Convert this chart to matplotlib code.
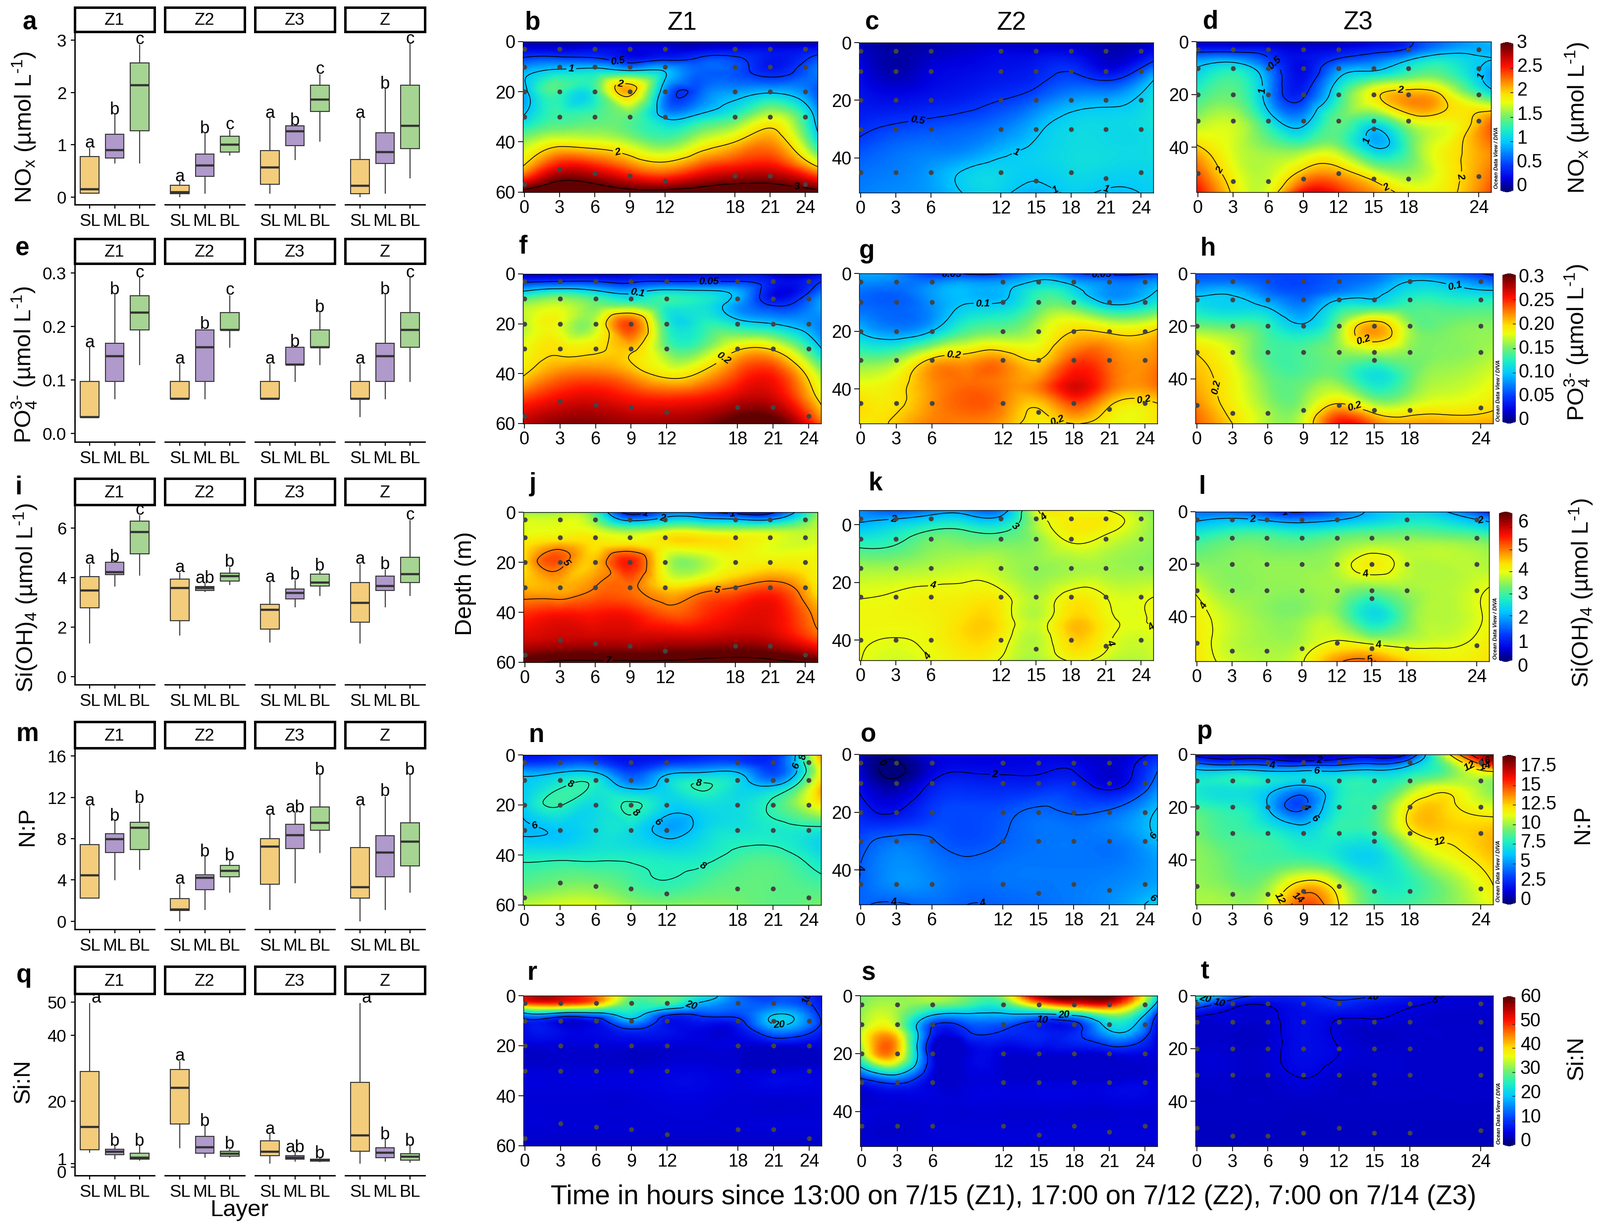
import matplotlib
matplotlib.use('Agg')
import numpy as np
import matplotlib.pyplot as plt
import matplotlib.tri as mtri
from matplotlib.colors import LinearSegmentedColormap, Normalize
from matplotlib.cm import ScalarMappable
from matplotlib.transforms import ScaledTranslation

plt.rcParams['font.family'] = ['Liberation Sans', 'DejaVu Sans']
plt.rcParams['mathtext.fontset'] = 'custom'
plt.rcParams['mathtext.rm'] = 'Liberation Sans'
plt.rcParams['mathtext.default'] = 'regular'

W, H = 3231, 2481

# box stats, low whisker, q1, median, q3, high whisker: SL ML BL for Z1 Z2 Z3 Z
nox_box = [[.08, .08, .15, .78, .93], [.65, .75, .9, 1.2, 1.57], [.65, 1.27, 2.14, 2.56, 2.91],
           [.01, .07, .09, .23, .29], [.08, .4, .61, .82, 1.21], [.8, .86, 1.0, 1.16, 1.28],
           [.08, .25, .57, .89, 1.5], [.72, .98, 1.26, 1.36, 1.36], [1.07, 1.64, 1.86, 2.14, 2.34],
           [.01, .07, .22, .72, 1.5], [.08, .64, .86, 1.23, 2.06], [.37, .93, 1.36, 2.14, 2.92]]
po4_box = [[.031, .031, .031, .097, .16], [.065, .097, .145, .169, .259], [.129, .194, .226, .258, .291],
           [.065, .065, .065, .097, .129], [.065, .097, .161, .194, .194], [.161, .194, .194, .226, .258],
           [.065, .065, .065, .097, .129], [.097, .129, .129, .161, .161], [.129, .161, .161, .194, .226],
           [.032, .065, .065, .097, .129], [.065, .097, .145, .169, .259], [.097, .161, .194, .226, .291]]
si_box = [[1.37, 2.78, 3.48, 4.04, 4.53], [3.67, 4.13, 4.22, 4.62, 4.62], [4.1, 4.96, 5.84, 6.28, 6.51],
          [1.68, 2.27, 3.59, 3.94, 4.19], [3.45, 3.49, 3.58, 3.65, 3.76], [3.73, 3.87, 4.07, 4.19, 4.41],
          [1.4, 1.92, 2.71, 2.93, 3.8], [2.82, 3.15, 3.39, 3.55, 3.89], [3.28, 3.66, 3.81, 4.15, 4.25],
          [1.37, 2.2, 2.98, 3.81, 4.53], [2.82, 3.49, 3.66, 4.07, 4.31], [3.28, 3.8, 4.15, 4.82, 6.31]]
np_box = [[2.23, 2.23, 4.46, 7.4, 11.13], [4.02, 6.64, 7.93, 8.49, 9.66], [5.02, 6.93, 9.04, 9.57, 11.36],
          [.06, 1.06, 1.15, 2.2, 3.55], [1.15, 3.08, 4.23, 4.52, 6.22], [2.82, 4.32, 4.87, 5.4, 5.84],
          [1.15, 3.58, 7.25, 7.99, 10.25], [3.73, 7.05, 8.34, 9.37, 10.48], [6.64, 8.81, 9.54, 11.07, 14.12],
          [.06, 2.23, 3.29, 7.16, 11.13], [1.15, 4.32, 6.64, 8.31, 12.04], [2.82, 5.37, 7.72, 9.54, 14.12]]
sin_box = [[4.57, 5.3, 12.15, 29, 49.6], [2.5, 3.73, 4.63, 5.46, 6.24], [2.06, 2.34, 2.79, 4.18, 6.3],
           [5.85, 13, 24.08, 29.65, 32], [2.95, 4.18, 5.96, 9.36, 12.26], [3.07, 3.29, 4.0, 4.8, 5.3],
           [1.23, 3.46, 4.68, 7.92, 9.87], [1.84, 2.4, 2.9, 3.46, 4.35], [1.67, 1.84, 2.12, 2.4, 2.5],
           [1.23, 4.85, 9.64, 25.64, 49.6], [1.84, 2.84, 4.35, 5.85, 8.25], [1.5, 2.06, 3.23, 4.01, 6.3]]

nox_letters = ['a', 'b', 'c', 'a', 'b', 'c', 'a', 'b', 'c', 'a', 'b', 'c']
po4_letters = ['a', 'b', 'c', 'a', 'b', 'c', 'a', 'b', 'b', 'a', 'b', 'c']
si_letters = ['a', 'b', 'c', 'a', 'ab', 'b', 'a', 'b', 'b', 'a', 'b', 'c']
np_letters = ['a', 'b', 'b', 'a', 'b', 'b', 'a', 'ab', 'b', 'a', 'b', 'b']
sin_letters = ['a', 'b', 'b', 'a', 'b', 'b', 'a', 'ab', 'b', 'a', 'b', 'b']

layers = ['SL', 'ML', 'BL']
zones = ['Z1', 'Z2', 'Z3', 'Z']
box_colors = ['#F3CD7B', '#B099CB', '#A6D492']

# sections, rows are depths of the depth lists, columns are time_nodes
time_nodes = [-0.2, 3, 6, 9, 12, 15, 18, 21, 25.1]
depth_z1 = [0, 3, 7, 12, 20, 30, 40, 50, 60]
depth_z2 = [0, 3, 7, 12, 20, 30, 38, 45, 52]
depth_z3 = [0, 3, 7, 12, 20, 30, 40, 50, 57]

nox_z1 = [[.1, .1, .1, .1, .1, .1, .1, .1, .1],
          [.25, .25, .3, .25, .25, .25, .3, .3, .35],
          [.55, .6, .55, .35, .45, .55, .55, .35, .6],
          [.9, 1.1, 1.15, 1.1, 1.0, .65, .6, .4, .75],
          [.85, 1.35, 1.3, 2.1, .8, .65, .85, .95, .6],
          [1.0, 1.35, 1.4, 1.45, .95, 1.1, 1.35, 1.75, .85],
          [1.6, 1.85, 1.8, 1.65, 1.45, 1.75, 2.0, 2.2, 1.15],
          [2.0, 2.6, 2.55, 2.3, 2.15, 2.4, 2.55, 2.6, 2.0],
          [3.1, 3.3, 3.2, 3.1, 3.1, 3.15, 3.25, 3.2, 3.1]]
nox_z2 = [[.15, .05, .1, .15, .15, .15, .15, .1, .2],
          [.2, .1, .15, .2, .25, .25, .25, .15, .3],
          [.25, .1, .2, .25, .3, .35, .4, .2, .55],
          [.3, .15, .25, .3, .35, .42, .55, .42, .95],
          [.35, .3, .35, .4, .5, .65, .85, .9, 1.15],
          [.45, .55, .6, .65, .75, .95, 1.1, 1.1, 1.15],
          [.6, .7, .75, .8, .95, 1.05, 1.12, 1.12, 1.12],
          [.7, .75, .85, 1.03, 1.08, 1.03, 1.1, 1.08, 1.08],
          [.75, .8, .85, 1.02, 1.05, .92, 1.03, .97, 1.05]]
nox_z3 = [[.2, .15, .1, .1, .15, .25, .45, .7, 1.0],
          [.4, .4, .35, .25, .3, .4, .55, .85, .9],
          [.85, .9, .55, .3, .55, .7, 1.0, 1.2, 1.0],
          [1.05, 1.3, .8, .3, .9, 1.1, 1.35, 1.4, .85],
          [1.3, 1.45, .85, .45, 1.25, 1.9, 2.15, 1.95, 1.2],
          [1.6, 1.7, 1.2, .9, 1.45, 1.25, 1.75, 1.85, 2.3],
          [2.05, 1.75, 1.55, 1.5, 1.55, 1.0, 1.4, 1.85, 2.25],
          [2.4, 1.85, 1.7, 2.1, 2.15, 1.8, 1.6, 1.85, 2.3],
          [2.6, 1.95, 1.8, 2.6, 2.5, 2.2, 1.9, 1.9, 2.4]]
po4_z1 = [[.02, .02, .02, .03, .03, .03, .03, .02, .03],
          [.045, .05, .05, .045, .05, .05, .05, .035, .05],
          [.1, .12, .105, .09, .11, .105, .09, .03, .07],
          [.16, .17, .15, .14, .13, .12, .085, .045, .09],
          [.165, .18, .17, .24, .13, .125, .115, .1, .075],
          [.18, .195, .195, .205, .15, .15, .195, .195, .1],
          [.195, .225, .23, .215, .19, .205, .24, .25, .16],
          [.24, .26, .265, .255, .25, .255, .27, .27, .19],
          [.275, .29, .29, .285, .285, .29, .31, .31, .23]]
po4_z2 = [[.09, .08, .05, .045, .05, .08, .055, .045, .05],
          [.08, .075, .075, .085, .085, .105, .09, .075, .085],
          [.07, .065, .085, .095, .095, .13, .115, .08, .105],
          [.07, .065, .08, .105, .11, .145, .15, .115, .135],
          [.1, .08, .1, .14, .15, .17, .2, .195, .205],
          [.15, .16, .205, .215, .22, .2, .24, .23, .225],
          [.18, .19, .22, .23, .225, .225, .265, .235, .23],
          [.2, .195, .22, .235, .225, .205, .24, .205, .2],
          [.19, .205, .225, .225, .215, .19, .2, .185, .195]]
po4_z3 = [[.06, .06, .055, .055, .06, .07, .08, .07, .045],
          [.07, .07, .06, .055, .065, .075, .1, .095, .065],
          [.09, .095, .07, .06, .075, .09, .115, .115, .105],
          [.115, .105, .095, .075, .115, .12, .135, .135, .135],
          [.15, .145, .13, .105, .155, .215, .16, .15, .155],
          [.2, .175, .14, .14, .155, .165, .155, .155, .165],
          [.21, .185, .15, .145, .15, .115, .145, .165, .18],
          [.225, .19, .16, .16, .205, .17, .175, .185, .195],
          [.235, .2, .165, .175, .255, .23, .215, .215, .215]]
si_z1 = [[3.5, 3.6, 3.0, .7, 1.5, 1.3, .7, .8, 3.5],
         [3.9, 3.9, 3.4, 1.8, 2.3, 2.3, 2.1, 2.0, 3.7],
         [3.9, 4.0, 3.9, 3.4, 3.7, 3.7, 3.6, 3.6, 3.8],
         [4.2, 4.5, 4.3, 4.2, 4.3, 4.4, 4.3, 4.0, 3.9],
         [4.3, 5.2, 4.6, 5.6, 3.9, 3.6, 4.1, 4.2, 4.1],
         [4.65, 4.7, 5.0, 5.1, 4.45, 4.65, 5.0, 5.3, 4.2],
         [5.4, 5.6, 5.6, 5.6, 5.2, 5.4, 5.7, 5.8, 4.8],
         [5.9, 6.0, 6.0, 6.0, 6.0, 6.0, 6.1, 6.0, 5.2],
         [6.8, 7.1, 7.1, 7.1, 7.1, 7.2, 7.3, 7.2, 6.9]]
si_z2 = [[1.8, 1.3, 1.6, 1.7, 1.6, 3.9, 4.1, 4.0, 3.4],
         [1.9, 2.0, 2.3, 2.3, 2.2, 3.7, 4.2, 4.2, 3.5],
         [2.3, 2.6, 3.0, 3.0, 2.9, 3.6, 4.2, 4.1, 3.5],
         [2.9, 3.0, 3.4, 3.4, 3.4, 3.5, 3.95, 3.8, 3.5],
         [3.6, 3.6, 3.7, 3.8, 3.7, 3.5, 3.6, 3.6, 3.5],
         [3.98, 4.05, 4.15, 4.2, 4.15, 3.7, 4.2, 4.0, 4.0],
         [4.1, 4.1, 4.15, 4.4, 4.3, 3.75, 4.5, 4.15, 4.05],
         [4.05, 3.98, 4.1, 4.4, 4.2, 3.7, 4.45, 4.1, 3.9],
         [4.02, 3.85, 4.0, 4.2, 3.95, 3.6, 4.05, 3.8, 3.8]]
si_z3 = [[1.6, 1.5, 1.2, .95, 1.5, 2.1, 2.4, 2.1, .9],
         [1.9, 2.1, 1.9, 1.7, 1.95, 2.3, 2.6, 2.5, 1.8],
         [2.5, 2.8, 2.8, 2.6, 2.8, 3.0, 3.1, 3.0, 2.6],
         [3.0, 3.3, 3.3, 3.2, 3.4, 3.6, 3.6, 3.6, 3.4],
         [3.45, 3.45, 3.5, 3.5, 3.7, 4.2, 3.8, 3.7, 3.65],
         [3.95, 3.5, 3.5, 3.5, 3.55, 3.3, 3.55, 3.7, 4.05],
         [4.2, 3.75, 3.5, 3.5, 3.5, 2.5, 3.3, 3.7, 4.1],
         [4.3, 3.75, 3.6, 3.7, 4.1, 3.9, 3.8, 3.9, 4.25],
         [4.3, 3.85, 3.7, 3.95, 4.9, 5.05, 4.5, 4.2, 4.35]]
np_z1 = [[2, 2.5, 2.5, 2, 2, 2.5, 2.8, 2.5, 14],
         [3, 3.5, 3.5, 2.2, 3, 3.5, 3.5, 3, 13],
         [5.5, 6, 6, 3.5, 5.5, 6, 6, 3.5, 12],
         [6.3, 7.7, 7.7, 5.2, 6.8, 8.1, 7, 5.8, 13],
         [6.3, 8.1, 7, 8.2, 6.7, 7, 7, 8.3, 12],
         [5.8, 6.2, 7, 7, 5.5, 6.6, 7.3, 7.6, 7.5],
         [7.5, 7.5, 7.6, 7.6, 7.3, 7.5, 8.3, 8.5, 7],
         [8.7, 9.2, 9.2, 8.5, 8, 8.5, 9, 9, 8.3],
         [10.5, 11, 11, 10, 9.7, 9.7, 9.5, 9, 9.5]]
np_z2 = [[1, .3, 1.5, 1.5, 1.5, 1.5, 1.2, 1.0, 2.5],
         [1.2, -.1, 1.3, 1.6, 1.6, 1.7, 1.7, 1.2, 3.5],
         [1.5, -.2, 1.6, 2.1, 2.0, 2, 2.1, 1.2, 4.2],
         [2.0, .8, 2.4, 2.8, 2.7, 2.9, 2.9, 1.9, 5],
         [2.6, 2.0, 3.2, 3.5, 3.7, 4.2, 3.9, 4.2, 6.2],
         [3.5, 4.4, 4.1, 3.6, 4, 4.4, 4.5, 4.5, 6],
         [3.9, 5, 4.6, 4.2, 4.4, 4.5, 4.5, 4.5, 5.3],
         [4, 5, 4.8, 4.3, 4.4, 4.5, 4.6, 4.8, 5.5],
         [4.2, 3.8, 4.3, 4.0, 4.1, 4.3, 4.6, 5, 6.5]]
np_z3 = [[1.5, 1, 1, 0, 1, 1, 2.5, 11, 19],
         [4, 3, 3, 2.5, 3, 3.5, 5, 9.5, 17],
         [6.8, 7, 6.5, 6.5, 6.5, 6.7, 7.5, 9, 11.5],
         [7.7, 7.5, 7, 5.8, 7.6, 8, 9.5, 11, 9.5],
         [8.5, 7.8, 6, 3.8, 7.7, 8.5, 12, 12.5, 11],
         [9.5, 8.5, 8, 7, 8, 8.2, 11.5, 12.5, 13],
         [9.8, 9, 8.5, 8.5, 7.5, 6.7, 9, 11, 12.8],
         [10, 9.5, 10, 13, 11, 8, 8, 9.5, 12],
         [10.2, 10, 11, 15, 12, 8.5, 8.5, 9.5, 11.5]]
sin_z1 = [[52, 55, 45, 30, 28, 24, 14, 12, 6],
          [48, 50, 44, 28, 28, 19, 14, 13, 7],
          [19, 19, 19, 24, 13, 12, 12, 19, 8],
          [5.5, 5, 5.5, 13, 6.5, 6, 7, 19, 9],
          [4.5, 4.5, 4.5, 4.5, 4.5, 4.5, 4.5, 4.5, 4.5],
          [4.5, 4.5, 4.5, 4.5, 5, 5, 4.5, 4.5, 4.5],
          [4.5, 4.5, 4.5, 4.5, 5, 5, 4.5, 4.5, 4.5],
          [4.5, 4.5, 4.5, 4.5, 4.5, 4.5, 4.5, 4.5, 4.5],
          [3.5, 3.5, 3.5, 3.5, 3.5, 3.5, 3.5, 3.5, 3.5]]
sin_z2 = [[30, 32, 34, 30, 33, 58, 62, 62, 22],
          [31, 33, 31, 28, 27, 42, 50, 52, 17],
          [32, 33, 19, 18, 18, 16, 19, 30, 8],
          [33, 37, 9, 10, 10, 8, 8, 20, 5],
          [28, 42, 5, 4.5, 4.5, 4.5, 4.5, 5, 4.5],
          [7, 11, 4.5, 4.5, 4.5, 4.5, 4.5, 4.5, 4.5],
          [4.5, 4.5, 4.5, 4.5, 4.5, 4.5, 4.5, 4.5, 4.5],
          [4.5, 4, 4.5, 4.5, 4.5, 4.5, 4.5, 4.5, 4.5],
          [4.5, 4.5, 4.5, 4.5, 4.5, 4.5, 4.5, 4.5, 4.5]]
sin_z3 = [[30, 14, 9, 9, 11, 10.5, 7, 5, 4.5],
          [16, 7, 5.5, 7, 9, 7, 5.5, 4.5, 4.5],
          [6, 4.5, 4.5, 6, 6, 5.5, 4.5, 4, 4],
          [4, 4, 4.2, 6, 4.5, 4, 4, 4, 4],
          [4, 4, 4.2, 6, 5, 4, 4, 4, 4],
          [4, 4, 4, 5.2, 4, 4, 4, 4, 4],
          [3.8, 3.8, 3.8, 3.8, 3.8, 3.8, 3.8, 3.8, 3.8],
          [3.5, 3.5, 3.5, 3.5, 3.5, 3.5, 3.5, 3.5, 3.5],
          [3.5, 3.5, 3.5, 3.5, 3.5, 3.5, 3.5, 3.5, 3.5]]

# sampling stations
z1_times = [0, 3, 6, 9, 12, 18, 21, 24]
z2_times = [0, 3, 6, 12, 15, 18, 21, 24]
z3_times = [0, 3, 6, 9, 12, 15, 18, 24]
z1_deep = [57, 51, 52.5, 53.5, 55.5, 53.5, 53.5, 57]
z2_deep = [45, 45, 45, 45, 48, 45, 47, 45]
z3_deep = [50, 53, 53, 52, 50, 52, 52, 51]
sample_depths = [3, 10, 20, 30]

nox_levels = [[.5, 1, 2, 3], [.5, 1], [.5, 1, 2]]
po4_levels = [[.05, .1, .2], [.05, .1, .2], [.05, .1, .2]]
si_levels = [[1, 2, 5, 7], [2, 3, 4], [1, 2, 4, 5]]
np_levels = [[6, 8], [0, 2, 4, 6], [0, 2, 4, 6, 12, 14, 16]]
sin_levels = [[10, 20], [10, 20], [5, 10, 20]]

nox_cbar = [0, .5, 1, 1.5, 2, 2.5, 3]
po4_cbar = [0, .05, .10, .15, .20, .25, .3]
si_cbar = [0, 1, 2, 3, 4, 5, 6]
np_cbar = [0, 2.5, 5, 7.5, 10, 12.5, 15, 17.5]
sin_cbar = [0, 10, 20, 30, 40, 50, 60]
po4_cbar_text = ['0', '0.05', '0.10', '0.15', '0.20', '0.25', '0.3']

odv = LinearSegmentedColormap.from_list('odv', [
    (0, '#00007a'), (.08, '#0000e0'), (.17, '#0038ff'), (.33, '#00c8ff'), (.42, '#20f0c0'),
    (.5, '#70f070'), (.6, '#e8ff10'), (.66, '#ffe000'), (.75, '#ff8000'), (.85, '#ff1000'),
    (.93, '#b00000'), (1, '#600000')])

fig = plt.figure(figsize=(W / 100, H / 100), dpi=100, facecolor='white')


def px_axes(x0, y0, x1, y1):
    return fig.add_axes([x0 / W, 1 - y1 / H, (x1 - x0) / W, (y1 - y0) / H])


def px_text(x, y, s, size, **kw):
    kw.setdefault('ha', 'center')
    kw.setdefault('va', 'center')
    fig.text(x / W, 1 - y / H, s, fontsize=size, **kw)


# boxplots
box_cols = [(151, 312), (333, 494), (515, 676), (697, 858)]
box_rows = [
    (15, 64, 66, 413, (-.142, 3.142), [0, 1, 2, 3], ['0', '1', '2', '3'], nox_box, nox_letters),
    (482, 532, 535, 892, (-.0157, .315), [0, .1, .2, .3], ['0.0', '0.1', '0.2', '0.3'], po4_box, po4_letters),
    (966, 1019, 1021, 1382, (-.32, 6.9), [0, 2, 4, 6], ['0', '2', '4', '6'], si_box, si_letters),
    (1457, 1510, 1511, 1876, (-.77, 16.72), [0, 4, 8, 12, 16], ['0', '4', '8', '12', '16'], np_box, np_letters),
    (1951, 2006, 2007, 2373, (-2.55, 52.4), [0, 1, 20, 40, 50], ['0', '1', '20', '40', '50'], sin_box, sin_letters),
]
for r_i, (s0, s1, a0, a1, ylim, yt, ytl, stats, letters) in enumerate(box_rows):
    for c, (x0, x1) in enumerate(box_cols):
        strip = px_axes(x0, s0, x1, s1)
        strip.set_xticks([])
        strip.set_yticks([])
        for sp in strip.spines.values():
            sp.set_linewidth(3.6)
        strip.text(.5, .47, zones[c], transform=strip.transAxes, ha='center', va='center', fontsize=25)

        ax = px_axes(x0, a0, x1, a1)
        rows = stats[c * 3:c * 3 + 3]
        st = [dict(whislo=r[0], q1=r[1], med=r[2], q3=r[3], whishi=r[4], fliers=[]) for r in rows]
        b = ax.bxp(st, positions=[1, 2, 3], widths=.75, patch_artist=True, showcaps=False, showfliers=False,
                   boxprops=dict(linewidth=1.5, edgecolor='#3a3a3a'),
                   whiskerprops=dict(linewidth=1.5, color='#3a3a3a'),
                   medianprops=dict(linewidth=3.2, color='#333333', solid_capstyle='butt'))
        for patch, col in zip(b['boxes'], box_colors):
            patch.set_facecolor(col)
        for i, r in enumerate(rows):
            dx = 9 if r[4] > 45 else 0
            ax.annotate(letters[c * 3 + i], (i + 1, r[4]), xytext=(dx, 1), textcoords='offset points',
                        ha='center', va='baseline', fontsize=25, annotation_clip=False)
        ax.set_xlim(.4, 3.6)
        ax.set_ylim(*ylim)
        ax.set_xticks([1, 2, 3])
        ax.set_xticklabels(layers, fontsize=25)
        ax.tick_params(axis='x', length=6, width=1.6, pad=6)
        ax.spines['top'].set_visible(False)
        ax.spines['right'].set_visible(False)
        ax.spines['bottom'].set_linewidth(2)
        if c == 0:
            ax.spines['left'].set_linewidth(2)
            ax.set_yticks(yt)
            ax.set_yticklabels(ytl, fontsize=25)
            ax.tick_params(axis='y', length=6, width=1.6, pad=6)
            if r_i == 4:
                # the 0 and 1 labels of Si:N sit apart from their ticks
                lab = ax.get_yticklabels()
                lab[0].set_transform(lab[0].get_transform() + ScaledTranslation(0, -9 / 100, fig.dpi_scale_trans))
                lab[1].set_transform(lab[1].get_transform() + ScaledTranslation(0, 10 / 100, fig.dpi_scale_trans))
        else:
            ax.spines['left'].set_visible(False)
            ax.set_yticks([])
        ax.patch.set_alpha(0)

# sections
sec_cols = [
    (z1_times, z1_deep, depth_z1, 60, [0, 20, 40, 60]),
    (z2_times, z2_deep, depth_z2, 52, [0, 20, 40]),
    (z3_times, z3_deep, depth_z3, 57, [0, 20, 40]),
]
sec_boxes = [
    [(1056, 84, 1651, 387.5), (1735, 86, 2329, 388.6), (2416, 84.4, 3011, 387.5)],
    [(1056, 553, 1658, 855), (1735, 552, 2337, 855), (2414, 552, 3015, 855)],
    [(1057, 1034, 1651, 1337), (1735, 1030, 2329, 1333), (2414, 1033, 3007, 1335)],
    [(1056, 1524, 1658, 1827), (1735, 1523, 2337, 1826), (2414, 1523, 3015, 1826)],
    [(1057, 2010, 1659, 2313), (1737, 2010, 2337, 2314), (2414, 2010, 3015, 2314)],
]
sec_fields = [
    ([nox_z1, nox_z2, nox_z3], nox_levels, 3.0),
    ([po4_z1, po4_z2, po4_z3], po4_levels, .3),
    ([si_z1, si_z2, si_z3], si_levels, 6.65),
    ([np_z1, np_z2, np_z3], np_levels, 18.7),
    ([sin_z1, sin_z2, sin_z3], sin_levels, 61),
]

for r, (fields, levels, vmax) in enumerate(sec_fields):
    for c, field in enumerate(fields):
        times, deep, depths, bottom, yt = sec_cols[c]
        # panel k has its depth axis shifted by 5 m
        shift = -5 if (r == 2 and c == 1) else 0
        ax = px_axes(*sec_boxes[r][c])
        xx, yy = np.meshgrid(time_nodes, np.array(depths) + shift)
        tri = mtri.Triangulation(xx.ravel(), yy.ravel())
        zz = np.array(field, dtype=float).ravel()
        interp = mtri.CubicTriInterpolator(tri, zz, kind='min_E')
        tri2, z2 = mtri.UniformTriRefiner(tri).refine_field(zz, interp, subdiv=4)
        z2 = np.maximum(z2, zz.min())
        ax.tripcolor(tri2, z2, shading='gouraud', cmap=odv, vmin=0, vmax=vmax)
        cs = ax.tricontour(tri2, z2, levels=levels[c], colors='black', linewidths=1.1)
        labels = ax.clabel(cs, fmt='%g', fontsize=15, inline=True, inline_spacing=4)
        for t in labels:
            t.set_fontstyle('italic')
            t.set_fontweight('bold')
        dot_t, dot_d = [], []
        for i, t in enumerate(times):
            for d in sample_depths:
                if c == 2 and t == 15 and d == 3:
                    continue
                dot_t.append(t)
                dot_d.append(d + shift)
            dot_t.append(t)
            dot_d.append(deep[i] + shift)
        if c == 2:
            dot_t.append(15)
            dot_d.append(33)
        ax.scatter(dot_t, dot_d, s=50, color='#444444', linewidths=0, zorder=5)
        ax.set_xlim(-.13, 25.05)
        if shift:
            ax.set_ylim(47, -5)
        else:
            ax.set_ylim(bottom, 0)
        ax.set_xticks(times)
        ax.set_xticklabels([str(t) for t in times], fontsize=26)
        ax.set_yticks(yt)
        ax.set_yticklabels([str(y) for y in yt], fontsize=26)
        ax.tick_params(axis='both', length=7, width=1.2, pad=4)
        for sp in ax.spines.values():
            sp.set_linewidth(1)

# colour bars
cb_boxes = [(3030, 85, 3056, 388), (3034, 552, 3061, 855), (3027, 1033, 3054, 1336),
            (3034, 1524, 3061, 1826), (3035, 2011, 3060, 2314)]
cb_ticks = [nox_cbar, po4_cbar, si_cbar, np_cbar, sin_cbar]
cb_max = [3.0, .3, 6.65, 18.7, 61]
cb_text_top = [87, 560, 1055, 1547, 2013]
cb_text_bot = [376, 848, 1346, 1817, 2304]
cb_text_x = [3063, 3067, 3065, 3070, 3070]
for i in range(5):
    cax = px_axes(*cb_boxes[i])
    sm = ScalarMappable(norm=Normalize(0, cb_max[i]), cmap=odv)
    cb = fig.colorbar(sm, cax=cax, extend='both', extendfrac=.012)
    cb.outline.set_visible(False)
    cb.set_ticks(cb_ticks[i])
    cax.tick_params(axis='y', length=4, width=1.2, labelright=False, direction='in', color='#333333')
    tv = cb_ticks[i]
    txt = po4_cbar_text if i == 1 else [f'{v:g}' for v in tv]
    for v, s in zip(tv, txt):
        y = cb_text_bot[i] + (cb_text_top[i] - cb_text_bot[i]) * (v - tv[0]) / (tv[-1] - tv[0])
        px_text(cb_text_x[i], y, s, 27, ha='left')

odv_pos = [(3022, 319), (3026, 789), (3020, 1269), (3026, 1759), (3027, 2248)]
for x, y in odv_pos:
    px_text(x, y, 'Ocean Data View / DIVA', 8, rotation=90, fontstyle='italic', fontweight='bold')

# axis titles, the superscripts use a short hyphen
no_lab = 'NO$_x$ (\u00b5mol L$^{\u2010 1}$)'
po_lab = 'PO$_4^{3\u2010}$ (\u00b5mol L$^{\u2010 1}$)'
si_lab = 'Si(OH)$_4$ (\u00b5mol L$^{\u2010 1}$)'
left_labels = [(no_lab, 49, 257), (po_lab, 49, 737), (si_lab, 52, 1207), ('N:P', 55, 1669), ('Si:N', 47, 2182)]
right_labels = [(no_lab, 3185, 238), (po_lab, 3185, 692), (si_lab, 3193, 1197), ('N:P', 3196, 1665), ('Si:N', 3184, 2135)]
for s, x, y in left_labels + right_labels:
    px_text(x, y, s, 34, rotation=90)

px_text(483, 2443, 'Layer', 34)
px_text(940, 1178, 'Depth (m)', 34, rotation=90)
px_text(2047, 2417, 'Time in hours since 13:00 on 7/15 (Z1), 17:00 on 7/12 (Z2), 7:00 on 7/14 (Z3)', 39.4)
px_text(1377, 46, 'Z1', 37)
px_text(2042, 46, 'Z2', 37)
px_text(2742, 46, 'Z3', 37)

panel_letters = [('a', 60, 46), ('b', 1075, 46), ('c', 1761, 46), ('d', 2445, 44),
                 ('e', 45, 502), ('f', 1056, 499), ('g', 1751, 508), ('h', 2439, 502),
                 ('i', 37, 985), ('j', 1076, 978), ('k', 1768, 976), ('l', 2428, 984),
                 ('m', 55, 1482), ('n', 1083, 1484), ('o', 1754, 1484), ('p', 2432, 1478),
                 ('q', 49, 1970), ('r', 1074, 1965), ('s', 1754, 1965), ('t', 2433, 1961)]
for s, x, y in panel_letters:
    px_text(x, y, s, 37, fontweight='bold')

fig.savefig('out.png', dpi=100)
